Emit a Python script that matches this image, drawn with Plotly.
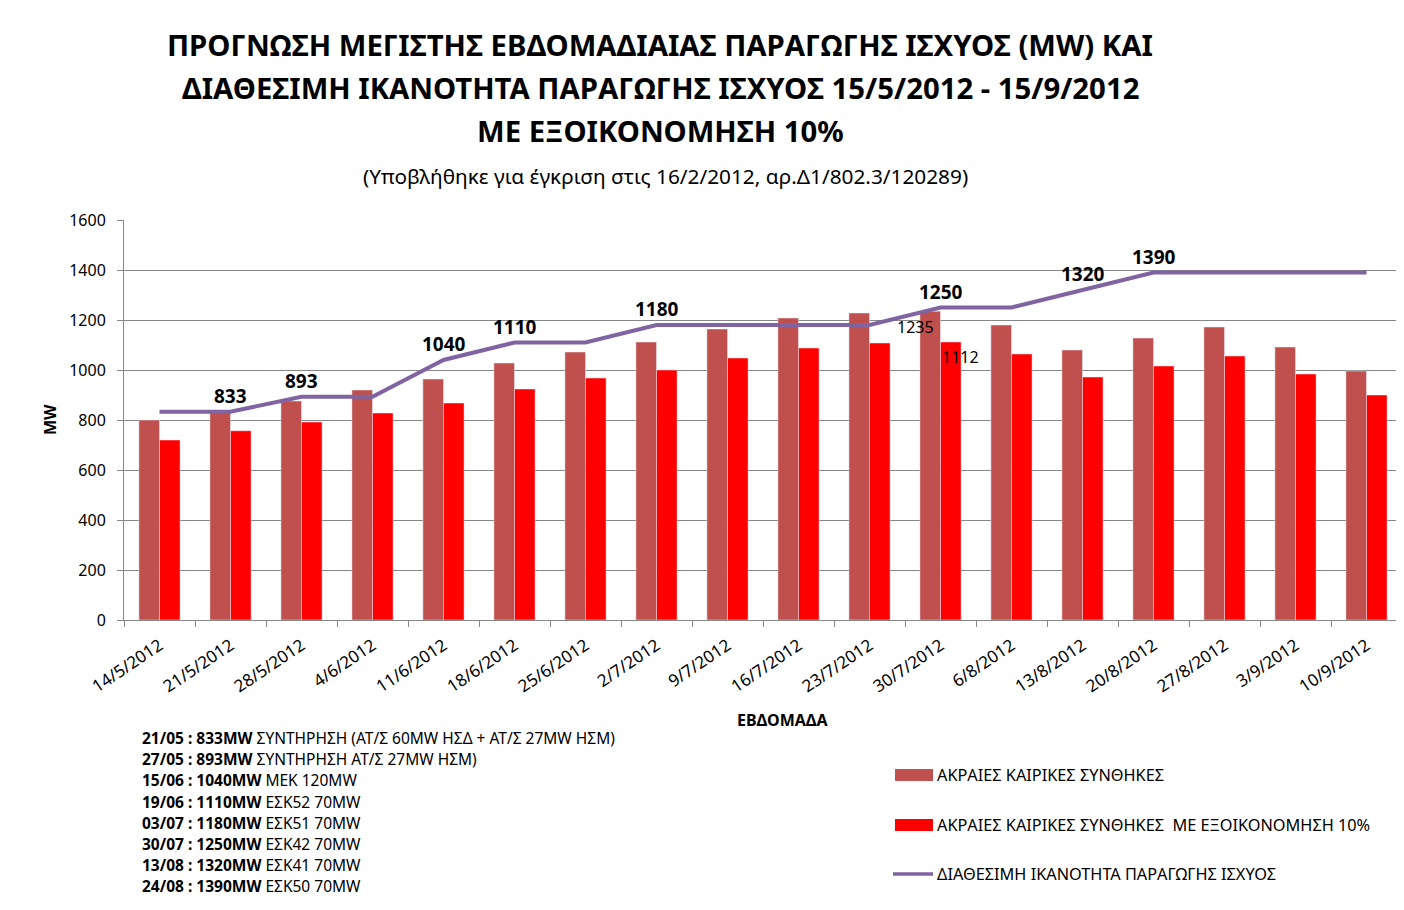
import plotly.graph_objects as go

FONT = "Noto Sans"

weeks = [
    "14/5/2012", "21/5/2012", "28/5/2012", "4/6/2012", "11/6/2012", "18/6/2012",
    "25/6/2012", "2/7/2012", "9/7/2012", "16/7/2012", "23/7/2012", "30/7/2012",
    "6/8/2012", "13/8/2012", "20/8/2012", "27/8/2012", "3/9/2012", "10/9/2012",
]
extreme = [800, 831, 876, 920, 964, 1028, 1072, 1112, 1164, 1208, 1228, 1235,
           1180, 1080, 1128, 1172, 1092, 996]
extreme_saving = [720, 757, 792, 828, 868, 924, 968, 1000, 1048, 1088, 1108, 1112,
                  1064, 972, 1016, 1056, 984, 900]
capacity = [833, 833, 893, 893, 1040, 1110, 1110, 1180, 1180, 1180, 1180, 1250,
            1250, 1320, 1390, 1390, 1390, 1390]
capacity_labels = ["", "833", "893", "", "1040", "1110", "", "1180", "", "", "",
                   "1250", "", "1320", "1390", "", "", ""]

series_names = [
    "ΑΚΡΑΙΕΣ ΚΑΙΡΙΚΕΣ ΣΥΝΘΗΚΕΣ",
    "ΑΚΡΑΙΕΣ ΚΑΙΡΙΚΕΣ ΣΥΝΘΗΚΕΣ  ΜΕ ΕΞΟΙΚΟΝΟΜΗΣΗ 10%",
    "ΔΙΑΘΕΣΙΜΗ ΙΚΑΝΟΤΗΤΑ ΠΑΡΑΓΩΓΗΣ ΙΣΧΥΟΣ",
]
colors = ["#C0504D", "#FF0000", "#8064A2"]

notes = [
    ("21/05 : 833MW", "ΣΥΝΤΗΡΗΣΗ (ΑΤ/Σ 60MW ΗΣΔ + ΑΤ/Σ 27MW ΗΣΜ)"),
    ("27/05 : 893MW", "ΣΥΝΤΗΡΗΣΗ ΑΤ/Σ 27MW ΗΣΜ)"),
    ("15/06 : 1040MW", "ΜΕΚ 120MW"),
    ("19/06 : 1110MW", "ΕΣΚ52 70MW"),
    ("03/07 : 1180MW", "ΕΣΚ51 70MW"),
    ("30/07 : 1250MW", "ΕΣΚ42 70MW"),
    ("13/08 : 1320MW", "ΕΣΚ41 70MW"),
    ("24/08 : 1390MW", "ΕΣΚ50 70MW"),
]

title_lines = [
    "ΠΡΟΓΝΩΣΗ ΜΕΓΙΣΤΗΣ ΕΒΔΟΜΑΔΙΑΙΑΣ ΠΑΡΑΓΩΓΗΣ ΙΣΧΥΟΣ (MW) ΚΑΙ",
    "ΔΙΑΘΕΣΙΜΗ ΙΚΑΝΟΤΗΤΑ ΠΑΡΑΓΩΓΗΣ ΙΣΧΥΟΣ 15/5/2012 - 15/9/2012",
    "ΜΕ ΕΞΟΙΚΟΝΟΜΗΣΗ 10%",
]
subtitle = "(Υποβλήθηκε για έγκριση στις 16/2/2012, αρ.Δ1/802.3/120289)"

# the page body has an 8px margin, so the figure is a bit smaller and
# every page position is shifted by that much
OFF = 8
W, H = 1396, 894
L, R, T, B = 124 - OFF, 2, 220 - OFF, H - (620 - OFF)


def px(x, y):
    # page pixel -> paper coords
    return (x - OFF - L) / (W - L - R), (H - B - (y - OFF)) / (H - T - B)


def black(size, **kw):
    return dict(family=FONT, size=size, color="black", **kw)


def note(x, y, text, size, xanchor="center", **kw):
    xx, yy = px(x, y)
    fig.add_annotation(x=xx, y=yy, xref="paper", yref="paper", text=text, showarrow=False,
                       xanchor=xanchor, yanchor="middle", font=black(size), **kw)


fig = go.Figure()

fig.add_trace(go.Bar(x=weeks, y=extreme, name=series_names[0], marker_color=colors[0]))
fig.add_trace(go.Bar(x=weeks, y=extreme_saving, name=series_names[1], marker_color=colors[1]))
fig.add_trace(go.Scatter(
    x=weeks, y=capacity, name=series_names[2], mode="lines",
    line=dict(color=colors[2], width=4),
))

# capacity labels above the line
for wk, val, lab in zip(weeks, capacity, capacity_labels):
    if lab:
        fig.add_annotation(x=wk, y=val, text=f"<b>{lab}</b>", showarrow=False,
                           yshift=16, font=black(19))

# data labels on the 30/7 bars
fig.add_annotation(x=weeks[11], y=extreme[11], text=str(extreme[11]), showarrow=False,
                   xshift=-25, yshift=-16, font=black(16))
fig.add_annotation(x=weeks[11], y=extreme_saving[11], text=str(extreme_saving[11]),
                   showarrow=False, xshift=20, yshift=-15, font=black(16))

# titles
for i, line in enumerate(title_lines):
    note(660, 45 + i * 43, f"<b>{line}</b>", 29.3)
note(665, 176, subtitle, 20.8)

note(50, 420, "<b>MW</b>", 16, textangle=-90)
note(783, 720, "<b>ΕΒΔΟΜΑΔΑ</b>", 16)

# notes under the chart
for i, (bold, rest) in enumerate(notes):
    note(140, 738 + i * 21.2, f"<b>{bold}</b> {rest}", 15.5, xanchor="left")

# legend, drawn as in the original (wide swatches, loose spacing)
legend_rows = [775, 825, 874]
for i, (name, col, ly) in enumerate(zip(series_names, colors, legend_rows)):
    x0, y0 = px(895, ly - 6)
    x1, y1 = px(933, ly + 6)
    if i < 2:
        fig.add_shape(type="rect", xref="paper", yref="paper", x0=x0, x1=x1, y0=y0, y1=y1,
                      fillcolor=col, line_width=0)
    else:
        xa, ya = px(893, ly)
        fig.add_shape(type="line", xref="paper", yref="paper", x0=xa, x1=x1, y0=ya, y1=ya,
                      line=dict(color=col, width=3.5))
    note(935, ly, name, 16.3, xanchor="left")

fig.update_layout(
    width=W, height=H,
    margin=dict(l=L, r=R, t=T, b=B, autoexpand=False),
    paper_bgcolor="white", plot_bgcolor="white",
    font=dict(family=FONT, size=16, color="black"),
    barmode="group", bargap=0.42, bargroupgap=0,
    showlegend=False,
)
fig.update_xaxes(
    type="category", range=[-0.5, len(weeks) - 0.5], tickangle=-34, tickfont=dict(size=17),
    ticklabelstandoff=8,
    showline=True, linecolor="#868686", ticks="outside", tickson="boundaries",
    tickcolor="#868686", ticklen=6, showgrid=False, automargin=False,
)
fig.update_yaxes(
    range=[0, 1600], dtick=200, tickfont=dict(size=16), ticklabelstandoff=8,
    showline=True, linecolor="#868686", ticks="outside", tickcolor="#868686", ticklen=6,
    showgrid=True, gridcolor="#868686", gridwidth=1, zeroline=False, automargin=False,
)

fig.write_html("out.html")
